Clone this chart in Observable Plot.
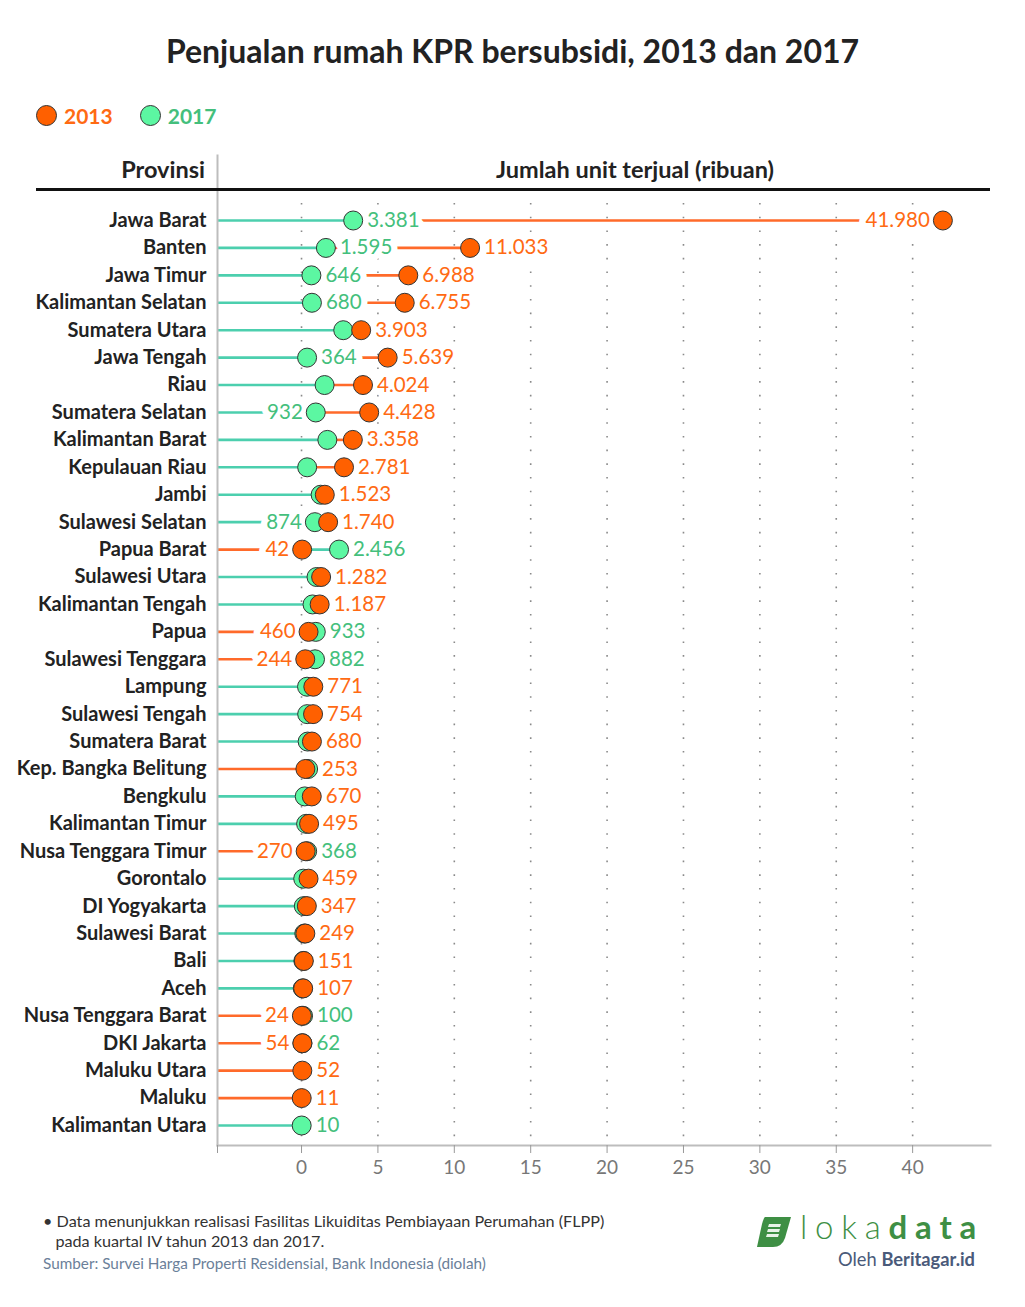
<!DOCTYPE html>
<html><head><meta charset="utf-8">
<script src="https://cdn.jsdelivr.net/npm/d3@7"></script>
<script src="https://cdn.jsdelivr.net/npm/@observablehq/plot@0.6"></script>
<style>
body{margin:0;background:#fff;font-family:Lato,"Noto Sans",sans-serif;color:#222;}
#wrap{position:relative;width:1025px;height:1307px;overflow:hidden;}
#title{position:absolute;top:31px;left:0;width:1025px;text-align:center;font-weight:bold;font-size:32px;color:#222;}
#legend{position:absolute;top:103px;left:36px;font-size:21px;font-weight:bold;display:flex;align-items:center;}
.sw{display:inline-block;width:19px;height:19px;border-radius:50%;border:1px solid #333;margin-right:7px;}
#chart{position:absolute;top:150px;left:0;}
#hdr{position:absolute;top:150px;left:0;width:1025px;height:45px;pointer-events:none;}
#hdr .h{position:absolute;top:5px;font-size:23.5px;font-weight:bold;color:#222;}
#hdr .line{position:absolute;left:36px;top:38px;width:954px;height:2.5px;background:#111;}
#foot{position:absolute;top:1211px;left:43px;font-size:16.2px;color:#333;line-height:20px;}
#src{position:absolute;top:1254px;left:43px;font-size:15.3px;color:#6b7f99;}
#logo{position:absolute;top:1212px;left:756px;width:225px;height:60px;}
#logo .word{position:absolute;left:44px;top:-6px;font-size:33px;color:#3e8f44;letter-spacing:7.8px;font-weight:300;}
#logo .word b{font-weight:bold;}
#logo .by{position:absolute;right:6px;top:36px;font-size:18.3px;color:#4a5a7a;}
</style></head><body>
<div id="wrap">
  <div id="title">Penjualan rumah KPR bersubsidi, 2013 dan 2017</div>
  <div id="legend"></div>
  <div id="chart"></div>
  <div id="hdr">
    <div class="h" style="right:820px">Provinsi</div>
    <div class="h" style="left:496px">Jumlah unit terjual (ribuan)</div>
    <div class="line"></div>
  </div>
  <div id="foot">• Data menunjukkan realisasi Fasilitas Likuiditas Pembiayaan Perumahan (FLPP)<br>&nbsp;&nbsp;&nbsp;pada kuartal IV tahun 2013 dan 2017.</div>
  <div id="src">Sumber: Survei Harga Properti Residensial, Bank Indonesia (diolah)</div>
  <div id="logo">
    <svg width="36" height="32" viewBox="0 0 36 32" style="position:absolute;left:0;top:4px">
      <path d="M9 1 H35 L29 22 Q26 31 17 31 H1 L6 8 Q8 1 9 1 Z" fill="#3e8f44"/>
      <path d="M13 8 h12 l-1 3 h-12 z M12 13 h12 l-1 3 h-12 z M11 18 h12 l-1 3 h-12 z" fill="#e8f3e8"/>
    </svg>
    <div class="word">loka<b>data</b></div>
    <div class="by">Oleh <b>Beritagar.id</b></div>
  </div>
</div>
<script>
// ---- data ----
const provinces = ["Jawa Barat","Banten","Jawa Timur","Kalimantan Selatan","Sumatera Utara","Jawa Tengah","Riau","Sumatera Selatan","Kalimantan Barat","Kepulauan Riau","Jambi","Sulawesi Selatan","Papua Barat","Sulawesi Utara","Kalimantan Tengah","Papua","Sulawesi Tenggara","Lampung","Sulawesi Tengah","Sumatera Barat","Kep. Bangka Belitung","Bengkulu","Kalimantan Timur","Nusa Tenggara Timur","Gorontalo","DI Yogyakarta","Sulawesi Barat","Bali","Aceh","Nusa Tenggara Barat","DKI Jakarta","Maluku Utara","Maluku","Kalimantan Utara"];
const sales2013 = [41980,11033,6988,6755,3903,5639,4024,4428,3358,2781,1523,1740,42,1282,1187,460,244,771,754,680,253,670,495,270,459,347,249,151,107,24,54,52,11,null];
const sales2017 = [3381,1595,646,680,2730,364,1510,932,1690,370,1250,874,2456,980,720,933,882,360,370,400,430,210,300,368,110,150,180,120,80,100,62,null,null,10];
const show2017 = [true,true,true,true,false,true,false,true,false,false,false,true,true,false,false,true,true,false,false,false,false,false,false,true,false,false,false,false,false,true,true,false,false,true];
const xTicks = [0,5,10,15,20,25,30,35,40];
const series = ["2013","2017"];
const dotColors = ["#ff6000","#5cf7a2"];
const textColors = ["#ff6a13","#44bf7c"];
const lineColors = ["#ff6a2a","#4ccfae"];

const X0 = -5.5, X1 = 44.9;
const fmt = d3.formatLocale({decimal:",",thousands:".",grouping:[3],currency:["",""]}).format(",");

// legend
document.getElementById("legend").innerHTML = series.map((s,i)=>
  `<span class="sw" style="background:${dotColors[i]}"></span><span style="color:${textColors[i]};margin-right:${i?0:27}px">${s}</span>`).join("");

const W = 1025, H = 1045, ML = 217, MR = 38, MT = 5, MB = 50;
const FS = 20.5;
const xs = Plot.scale({x:{domain:[X0,X1], range:[ML, W-MR]}});
const ctx = document.createElement("canvas").getContext("2d");
ctx.font = FS + "px Lato";
const tw = s => ctx.measureText(s).width;

const segs = [], dots = [], labStart = [], labEnd = [];
const R = 9.5, GAP = 4.5;
provinces.forEach((p,i)=>{
  const pts = [];
  if (sales2013[i]!=null) pts.push({p, v:sales2013[i]/1000, raw:sales2013[i], s:"2013", show:true});
  if (sales2017[i]!=null) pts.push({p, v:sales2017[i]/1000, raw:sales2017[i], s:"2017", show:show2017[i]});
  pts.forEach(d=>dots.push(d));
  const sorted = pts.slice().sort((a,b)=>a.v-b.v);
  segs.push({p, x1:X0, x2:sorted[0].v, s:sorted[0].s});
  if (sorted.length>1) segs.push({p, x1:sorted[0].v, x2:sorted[1].v, s:sorted[1].s});
  const vis = sorted.filter(d=>d.show);
  const vmax = sorted[sorted.length-1].v;
  if (vis.length===1) {
    labStart.push({...vis[0], x:vmax, t:fmt(vis[0].raw)});
  } else if (vis.length===2) {
    const [lo,hi] = vis;
    const tHi = fmt(hi.raw), tLo = fmt(lo.raw);
    if (xs.apply(hi.v)+R+GAP+tw(tHi) > W-MR) labEnd.push({...hi,x:hi.v,t:tHi});
    else labStart.push({...hi,x:hi.v,t:tHi});
    const gap = xs.apply(hi.v)-xs.apply(lo.v)-2*R;
    if (gap >= tw(tLo)+2*GAP+6) labStart.push({...lo,x:lo.v,t:tLo});
    else labEnd.push({...lo,x:lo.v,t:tLo});
  }
});
// draw order: 2017 first, 2013 on top
dots.sort((a,b)=> (a.s==="2017"?0:1)-(b.s==="2017"?0:1));

const col = d3.scaleOrdinal(series, lineColors);
const tcol = d3.scaleOrdinal(series, textColors);
const dcol = d3.scaleOrdinal(series, dotColors);
const firstP = provinces[0], lastP = provinces[provinces.length-1];

const chart = Plot.plot({
  width: W, height: H,
  marginLeft: ML, marginRight: MR, marginTop: MT, marginBottom: MB,
  style: {fontFamily: "Lato, sans-serif", background: "transparent"},
  x: {domain:[X0,X1], range:[ML, W-MR]},
  y: {type:"point", domain: provinces, range:[70, 975], padding:0, round:false},
  marks: [
    Plot.ruleX(xTicks, {x: d=>d, y1: () => firstP, y2: () => lastP, insetTop:-17, insetBottom:-20, stroke:"#8a8a8a", strokeWidth:1.6, strokeDasharray:"1.6,12.1"}),
    Plot.ruleY(segs, {y:"p", x1:"x1", x2:"x2", stroke: d=>col(d.s), strokeWidth:2.6}),
    Plot.text(labStart, {x:"x", y:"p", text:"t", fill:d=>tcol(d.s), textAnchor:"start", dx:R+GAP, fontSize:FS, stroke:"white", strokeWidth:13}),
    Plot.text(labEnd, {x:"x", y:"p", text:"t", fill:d=>tcol(d.s), textAnchor:"end", dx:-(R+GAP-1), fontSize:FS, stroke:"white", strokeWidth:13}),
    Plot.dot(dots, {x:"v", y:"p", r:R, fill:d=>dcol(d.s), stroke:"#333", strokeWidth:1}),
    Plot.frame({anchor:"left", stroke:"#bdbdbd", strokeWidth:2}),
    Plot.frame({anchor:"bottom", stroke:"#bdbdbd", strokeWidth:2, insetRight:-3}),
    Plot.axisY({tickSize:0, tickPadding:11, fontSize:20, fontWeight:"bold", label:null, color:"#222"}),
    Plot.axisX({ticks:[X0, ...xTicks], tickFormat:d=> d<0 ? "" : d, tickSize:8, tickPadding:7, fontSize:19, label:null, color:"#777", stroke:"#999"})
  ]
});
document.getElementById("chart").appendChild(chart);
</script>
</body></html>
